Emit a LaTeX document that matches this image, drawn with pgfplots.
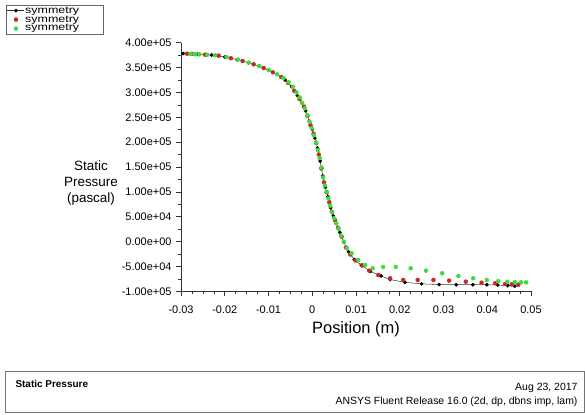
\documentclass[border=0pt]{standalone}
\usepackage{fontspec}
\setmainfont{Liberation Sans}
\usepackage{graphicx}
\usepackage{pgfplots}
\pgfplotsset{compat=1.18}
\definecolor{fred}{RGB}{200,38,40}
\definecolor{fgreen}{RGB}{60,220,60}
\newcommand{\legtext}{\makebox[76bp][l]{\scalebox{1.25}[1]{symmetry}}}

% pressure in units of 1e5 Pa
\pgfplotstableread{
x        y
-0.0295  3.783
-0.0262  3.767
-0.0230  3.752
-0.0200  3.712
-0.0172  3.660
-0.0146  3.598
-0.0122  3.530
-0.0100  3.447
-0.0080  3.360
-0.0062  3.250
-0.0047  3.115
-0.0034  2.935
-0.0024  2.795
-0.0015  2.630
-0.0007  2.420
 0.0000  2.255
 0.0006  2.080
 0.0012  1.880
 0.0018  1.620
 0.0024  1.320
 0.0030  1.090
 0.0036  0.905
 0.0042  0.680
 0.0048  0.520
 0.0055  0.365
 0.0063  0.185
 0.0072 -0.010
 0.0083 -0.205
 0.0096 -0.360
 0.0112 -0.475
 0.0133 -0.600
 0.0157 -0.690
 0.0178 -0.763
 0.0212 -0.820
 0.0250 -0.850
 0.0290 -0.864
 0.0329 -0.868
 0.0367 -0.868
 0.0399 -0.868
 0.0424 -0.874
 0.0447 -0.888
 0.0463 -0.898
}\blackdata

\pgfplotstableread{
x        y
-0.0286  3.778
-0.0275  3.775
-0.0245  3.759
-0.0214  3.740
-0.0186  3.688
-0.0159  3.632
-0.0134  3.566
-0.0111  3.490
-0.0090  3.405
-0.0071  3.310
-0.0055  3.190
-0.0041  3.030
-0.0029  2.870
-0.0019  2.715
-0.0011  2.530
-0.0004  2.340
 0.0003  2.170
 0.0009  1.985
 0.0015  1.750
 0.0021  1.470
 0.0027  1.190
 0.0033  0.990
 0.0039  0.790
 0.0045  0.600
 0.0052  0.430
 0.0059  0.275
 0.0067  0.100
 0.0077 -0.120
 0.0087 -0.260
 0.0099 -0.380
 0.0114 -0.480
 0.0130 -0.585
 0.0151 -0.673
 0.0178 -0.738
 0.0208 -0.772
 0.0241 -0.772
 0.0277 -0.772
 0.0313 -0.786
 0.0351 -0.806
 0.0387 -0.826
 0.0418 -0.838
 0.0441 -0.853
 0.0456 -0.859
 0.0471 -0.867
}\reddata

\pgfplotstableread{
x        y
-0.0278  3.772
-0.0268  3.768
-0.0258  3.765
-0.0240  3.758
-0.0222  3.748
-0.0196  3.710
-0.0170  3.660
-0.0145  3.600
-0.0121  3.530
-0.0099  3.450
-0.0080  3.365
-0.0066  3.290
-0.0054  3.205
-0.0044  3.110
-0.0036  3.000
-0.0029  2.900
-0.0023  2.790
-0.0017  2.680
-0.0011  2.540
-0.0006  2.410
-0.0001  2.280
 0.0004  2.140
 0.0009  1.990
 0.0013  1.840
 0.0017  1.680
 0.0021  1.490
 0.0025  1.290
 0.0029  1.130
 0.0033  1.000
 0.0037  0.870
 0.0041  0.720
 0.0045  0.590
 0.0050  0.470
 0.0055  0.370
 0.0060  0.260
 0.0066  0.120
 0.0072  0.000
 0.0079 -0.130
 0.0090 -0.235
 0.0105 -0.370
 0.0121 -0.470
 0.0138 -0.537
 0.0162 -0.511
 0.0191 -0.511
 0.0225 -0.537
 0.0260 -0.585
 0.0297 -0.637
 0.0334 -0.692
 0.0368 -0.738
 0.0399 -0.772
 0.0425 -0.796
 0.0446 -0.808
 0.0463 -0.814
 0.0477 -0.820
 0.0489 -0.820
}\greendata

\begin{document}
\begin{tikzpicture}
\path (0bp,0bp) rectangle (585bp,415bp);

\begin{axis}[
  at={(181bp,123.7bp)}, anchor=south west,
  width=350bp, height=248.6bp,
  scale only axis,
  xmin=-0.03, xmax=0.05,
  ymin=-1, ymax=4,
  axis x line*=bottom, axis y line*=left,
  axis line style={black!80, line width=0.5bp},
  tick style={black!80, line width=0.5bp},
  tick align=outside,
  major tick length=5bp, minor tick length=3bp,
  xtick={-0.03,-0.02,-0.01,0,0.01,0.02,0.03,0.04,0.05},
  xticklabels={-0.03,-0.02,-0.01,0,0.01,0.02,0.03,0.04,0.05},
  ytick={-1,-0.5,0,0.5,1,1.5,2,2.5,3,3.5,4},
  yticklabels={-1.00e+05,-5.00e+04,0.00e+00,5.00e+04,1.00e+05,1.50e+05,2.00e+05,2.50e+05,3.00e+05,3.50e+05,4.00e+05},
  minor x tick num=3, minor y tick num=1,
  scaled ticks=false,
  ticklabel style={font=\fontsize{11}{12}\selectfont},
  xticklabel style={yshift=-6bp},
  yticklabel style={xshift=-1bp},
  legend style={at={(-0.5,1.1517)}, anchor=north west, draw=black!60,
    font=\fontsize{10}{10}\selectfont, inner sep=1bp, row sep=0bp,
    nodes={inner sep=0.5bp}},
  legend cell align=left,
  clip=false,
]
\addplot[black!80, line width=0.5bp, mark=*, mark size=1.6bp,
  mark options={fill=black, draw=black}] table[x=x, y=y] {\blackdata};
\addlegendentry{\legtext}
\addplot[only marks, mark=*, mark size=2bp, draw=fred, fill=fred] table[x=x, y=y] {\reddata};
\addlegendentry{\legtext}
\addplot[only marks, mark=*, mark size=2bp, draw=fgreen, fill=fgreen] table[x=x, y=y] {\greendata};
\addlegendentry{\legtext}
\end{axis}

\node[align=center, font=\fontsize{13.5}{16}\selectfont] at (91bp,232bp) {Static\\Pressure\\(pascal)};
\node[font=\fontsize{16.5}{18}\selectfont] at (356bp,86bp) {Position (m)};

\draw[black!55, line width=0.6bp] (5bp,3bp) rectangle (584bp,44bp);
\node[anchor=west, font=\fontsize{10}{12}\selectfont\bfseries] at (12bp,31bp) {Static Pressure};
\node[anchor=east, font=\fontsize{10.5}{12}\selectfont] at (581bp,27bp) {Aug 23, 2017};
\node[anchor=east, font=\fontsize{10.5}{12}\selectfont] at (581bp,13bp) {ANSYS Fluent Release 16.0 (2d, dp, dbns imp, lam)};
\end{tikzpicture}
\end{document}
